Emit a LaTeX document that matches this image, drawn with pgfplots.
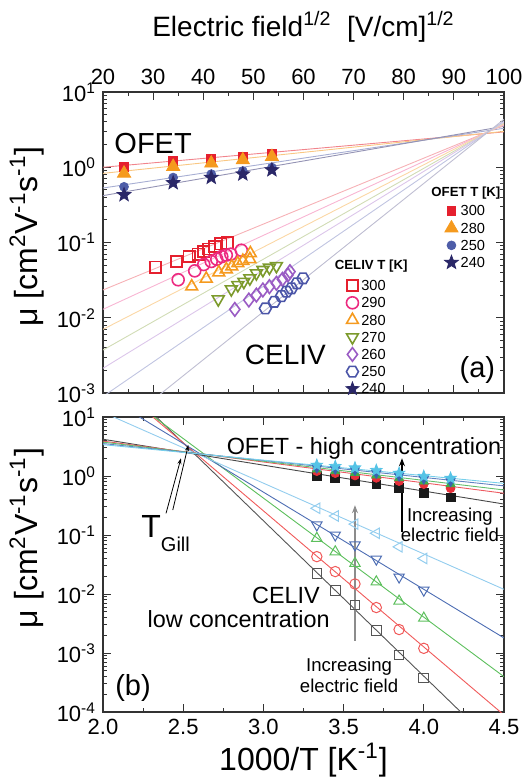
\documentclass[border=0pt]{standalone}
\usepackage{fontspec}
\setmainfont{Liberation Sans}
\usepackage{pgfplots}
\pgfplotsset{compat=1.18}
\usetikzlibrary{arrows.meta}

% --- colours ---
\definecolor{cRed}{HTML}{E5202E}
\definecolor{cPink}{HTML}{EC2A80}
\definecolor{cOrange}{HTML}{F59A1E}
\definecolor{cOlive}{HTML}{7C9A2C}
\definecolor{cPurple}{HTML}{9A5CC4}
\definecolor{cIndigo}{HTML}{4B55A8}
\definecolor{cBlue}{HTML}{4E5DA8}
\definecolor{cNavy}{HTML}{2A2768}
% panel (b)
\definecolor{bBlack}{HTML}{1A1A1A}
\definecolor{bRed}{HTML}{E8303A}
\definecolor{bGreen}{HTML}{3DAE48}
\definecolor{bBlue}{HTML}{3B62B0}
\definecolor{bCyan}{HTML}{55C3E6}
\definecolor{oBlack}{HTML}{555555}
\definecolor{oRed}{HTML}{F05A5A}
\definecolor{oGreen}{HTML}{5CBF5C}
\definecolor{oBlue}{HTML}{4D6DB3}
\definecolor{oCyan}{HTML}{93CDEE}

% filled five-point star and open hexagon
\pgfdeclareplotmark{fstar}{%
  \pgfpathmoveto{\pgfpointpolar{90}{\pgfplotmarksize}}%
  \pgfpathlineto{\pgfpointpolar{126}{0.42\pgfplotmarksize}}%
  \pgfpathlineto{\pgfpointpolar{162}{\pgfplotmarksize}}%
  \pgfpathlineto{\pgfpointpolar{198}{0.42\pgfplotmarksize}}%
  \pgfpathlineto{\pgfpointpolar{234}{\pgfplotmarksize}}%
  \pgfpathlineto{\pgfpointpolar{270}{0.42\pgfplotmarksize}}%
  \pgfpathlineto{\pgfpointpolar{306}{\pgfplotmarksize}}%
  \pgfpathlineto{\pgfpointpolar{342}{0.42\pgfplotmarksize}}%
  \pgfpathlineto{\pgfpointpolar{18}{\pgfplotmarksize}}%
  \pgfpathlineto{\pgfpointpolar{54}{0.42\pgfplotmarksize}}%
  \pgfpathclose\pgfusepathqfillstroke}
\pgfdeclareplotmark{hexagon}{%
  \pgfpathmoveto{\pgfpointpolar{0}{\pgfplotmarksize}}%
  \pgfpathlineto{\pgfpointpolar{60}{\pgfplotmarksize}}%
  \pgfpathlineto{\pgfpointpolar{120}{\pgfplotmarksize}}%
  \pgfpathlineto{\pgfpointpolar{180}{\pgfplotmarksize}}%
  \pgfpathlineto{\pgfpointpolar{240}{\pgfplotmarksize}}%
  \pgfpathlineto{\pgfpointpolar{300}{\pgfplotmarksize}}%
  \pgfpathclose\pgfusepathqstroke}

\pgfplotsset{
  every axis/.append style={
    scale only axis, width=200.5pt,
    tick align=inside,
    major tick length=4pt, minor tick length=2pt,
    axis line style={line width=0.6pt, black!80},
    tick style={black!80, line width=0.5pt},
    tick label style={font=\fontsize{11}{12}\selectfont},
    label style={font=\fontsize{16}{18}\selectfont},
  },
}
\tikzset{fitline/.style={line width=0.45pt}}

\newcommand{\ylab}{μ [cm\textsuperscript{2}V\textsuperscript{-1}s\textsuperscript{-1}]}
\newcommand{\legimg}{\draw[mark repeat=2,mark phase=2]}

\begin{document}
\begin{tikzpicture}
\path[use as bounding box] (-51.5pt,-195.5pt) rectangle (212pt,196.5pt);

% ================= PANEL (a) =================
\begin{axis}[ymode=log, at={(0,0)}, anchor=south west, height=150.5pt,
  xmin=20, xmax=100, ymin=1e-3, ymax=10,
  xtick={20,30,...,100}, minor x tick num=1,
  xticklabel pos=right, xtick pos=both,
  ytick={1e-3,1e-2,1e-1,1,10},
  yticklabels={10\textsuperscript{-3},10\textsuperscript{-2},10\textsuperscript{-1},10\textsuperscript{0},10\textsuperscript{1}},
  xticklabel={\pgfmathprintnumber[assume math mode=true]{\tick}},
  xlabel={Electric field\textsuperscript{1/2}\ \ [V/cm]\textsuperscript{1/2}},
  xlabel style={at={(axis description cs:0.5,1)}, anchor=center, yshift=32.5pt, font=\fontsize{14}{16}\selectfont},
  ylabel={\ylab},
  ylabel style={at={(axis description cs:-0.19,0.52)}, anchor=center},
  legend style={at={(axis description cs:0.59,0.4)}, anchor=north west,
    draw=none, fill=none, font=\fontsize{7.3}{8}\selectfont, row sep=0pt,
    nodes={inner sep=1.2pt, text height=5.6pt, text depth=0.6pt}},
  legend cell align=left,
]
% OFET fits
\addplot[forget plot, fitline, cRed!55] coordinates {(20,1.0) (100,2.95)};
\addplot[forget plot, fitline, cOrange!55] coordinates {(20,0.83) (100,3.0)};
\addplot[forget plot, fitline, cBlue!50] coordinates {(20,0.53) (100,3.3)};
\addplot[forget plot, fitline, cNavy!50] coordinates {(20,0.42) (100,3.5)};
% CELIV fits
\addplot[forget plot, fitline, cRed!35] coordinates {(20,0.0234) (100,3.62)};
\addplot[forget plot, fitline, cPink!35] coordinates {(20,0.01294) (100,3.71)};
\addplot[forget plot, fitline, cOrange!40] coordinates {(20,0.00701) (100,3.80)};
\addplot[forget plot, fitline, cOlive!35] coordinates {(20,0.00372) (100,3.89)};
\addplot[forget plot, fitline, cPurple!35] coordinates {(20,0.00213) (100,3.98)};
\addplot[forget plot, fitline, cIndigo!35] coordinates {(20,0.0009) (100,4.11)};
\addplot[forget plot, fitline, cNavy!30] coordinates {(20,0.000238) (100,4.34)};

% CELIV data
\addplot[only marks, mark=square, mark size=2.8pt, cRed, line width=0.8pt,
  legend image code/.code={\legimg plot coordinates {(0cm,0cm) (0.15cm,0cm) (0.3cm,0cm)};}] coordinates {
 (30.5,0.047) (34.7,0.056) (37.2,0.065) (39.0,0.070) (40.1,0.076) (41.1,0.082) (42.3,0.088) (43.5,0.096) (44.8,0.099)};
\addlegendentry{300}
\addplot[only marks, mark=o, mark size=3pt, cPink, line width=0.8pt,
  legend image code/.code={\legimg plot coordinates {(0cm,0cm) (0.15cm,0cm) (0.3cm,0cm)};}] coordinates {
 (35.0,0.032) (38.3,0.042) (40.1,0.051) (41.6,0.056) (42.7,0.060) (43.7,0.065) (44.6,0.068) (45.5,0.070) (47.6,0.079)};
\addlegendentry{290}
\addplot[only marks, mark=triangle, mark size=3.4pt, cOrange, line width=0.8pt,
  legend image code/.code={\legimg plot coordinates {(0cm,0cm) (0.15cm,0cm) (0.3cm,0cm)};}] coordinates {
 (37.7,0.026) (40.6,0.033) (43.1,0.040) (44.6,0.044) (45.7,0.048) (46.9,0.053) (47.9,0.057) (49.3,0.060) (49.4,0.072)};
\addlegendentry{280}
\addplot[only marks, mark=triangle, mark size=3.4pt, mark options={rotate=180}, cOlive, line width=0.8pt,
  legend image code/.code={\legimg plot coordinates {(0cm,0cm) (0.15cm,0cm) (0.3cm,0cm)};}] coordinates {
 (43.0,0.0176) (45.6,0.0239) (46.9,0.0272) (48.1,0.0301) (49.3,0.0334) (50.6,0.039) (51.9,0.0432) (53.2,0.0463) (54.6,0.0488)};
\addlegendentry{270}
\addplot[only marks, mark=diamond, mark size=3.4pt, cPurple, line width=0.8pt,
  legend image code/.code={\legimg plot coordinates {(0cm,0cm) (0.15cm,0cm) (0.3cm,0cm)};}] coordinates {
 (46.3,0.0129) (49.1,0.0172) (50.6,0.020) (51.9,0.0234) (53.2,0.0259) (54.6,0.0287) (55.8,0.0324) (56.9,0.037) (57.3,0.041)};
\addlegendentry{260}
\addplot[only marks, mark=hexagon, mark size=3pt, cIndigo, line width=0.8pt,
  legend image code/.code={\legimg plot coordinates {(0cm,0cm) (0.15cm,0cm) (0.3cm,0cm)};}] coordinates {
 (52.4,0.0133) (54.2,0.0163) (55.6,0.0194) (56.6,0.0222) (57.6,0.0246) (58.7,0.0287) (59.9,0.0334)};
\addlegendentry{250}
\addlegendimage{only marks, mark=fstar, mark size=3.4pt, cNavy, fill=cNavy,
  legend image code/.code={\legimg plot coordinates {(0cm,0cm) (0.15cm,0cm) (0.3cm,0cm)};}}
\addlegendentry{240}

% annotations
\node[font=\fontsize{14.5}{16}\selectfont] at (axis cs:30.0,2.08) {OFET};
\node[font=\fontsize{14}{16}\selectfont] at (axis cs:56.4,0.0032) {CELIV};
\node[font=\fontsize{14.5}{16}\selectfont] at (axis cs:94.7,0.00204) {(a)};
\node[font=\bfseries\fontsize{6.6}{8}\selectfont] at (axis cs:73.5,0.0492) {CELIV T [K]};
\node[font=\bfseries\fontsize{6.6}{8}\selectfont] at (axis cs:92.4,0.459) {OFET T [K]};
\end{axis}

% OFET markers of panel (a), with their own legend
\begin{axis}[ymode=log, at={(0,0)}, anchor=south west, height=150.5pt,
  xmin=20, xmax=100, ymin=1e-3, ymax=10, hide axis,
  legend style={at={(axis description cs:0.836,0.648)}, anchor=north west,
    draw=none, fill=none, font=\fontsize{7.3}{8}\selectfont, row sep=0pt,
    nodes={inner sep=1.2pt, text height=5.6pt, text depth=0.6pt}},
  legend cell align=left,
]
\addplot[only marks, mark=square*, mark size=2.2pt, cRed,
  legend image code/.code={\legimg plot coordinates {(0cm,0cm) (0.15cm,0cm) (0.3cm,0cm)};}] coordinates {
 (24.2,1.02) (34.0,1.21) (41.6,1.29) (47.9,1.37) (53.7,1.53)};
\addlegendentry{300}
\addplot[only marks, mark=triangle*, mark size=3.8pt, cOrange,
  legend image code/.code={\legimg plot coordinates {(0cm,0cm) (0.15cm,0cm) (0.3cm,0cm)};}] coordinates {
 (24.2,0.83) (34.0,1.02) (41.6,1.13) (47.9,1.25) (53.7,1.38)};
\addlegendentry{280}
\addplot[only marks, mark=*, mark size=2.2pt, cBlue,
  legend image code/.code={\legimg plot coordinates {(0cm,0cm) (0.15cm,0cm) (0.3cm,0cm)};}] coordinates {
 (24.2,0.55) (34.0,0.73) (41.6,0.81) (47.9,0.89) (53.7,0.99)};
\addlegendentry{250}
\addplot[only marks, mark=fstar, mark size=3.6pt, cNavy, fill=cNavy,
  legend image code/.code={\legimg plot coordinates {(0cm,0cm) (0.15cm,0cm) (0.3cm,0cm)};}] coordinates {
 (24.2,0.43) (34.0,0.62) (41.6,0.73) (47.9,0.81) (53.7,0.92)};
\addlegendentry{240}
\end{axis}

% ================= PANEL (b) =================
\begin{axis}[ymode=log, at={(0,-12pt)}, anchor=north west, height=147.5pt,
  xmin=2, xmax=4.5, ymin=1e-4, ymax=10,
  xtick={2,2.5,...,4.5}, minor x tick num=1,
  xticklabel={\pgfmathprintnumber[assume math mode=true, fixed, fixed zerofill, precision=1]{\tick}},
  ytick={1e-4,1e-3,1e-2,1e-1,1,10},
  yticklabels={10\textsuperscript{-4},10\textsuperscript{-3},10\textsuperscript{-2},10\textsuperscript{-1},10\textsuperscript{0},10\textsuperscript{1}},
  xlabel={1000/T [K\textsuperscript{-1}]},
  xlabel style={at={(axis description cs:0.5,0)}, anchor=center, yshift=-24pt},
  ylabel={\ylab},
  ylabel style={at={(axis description cs:-0.19,0.59)}, anchor=center},
]
% CELIV fits
\addplot[fitline, oBlack] coordinates {(2.0,75.3) (4.5,1.95e-5)};
\addplot[fitline, oRed] coordinates {(2.0,52.1) (4.5,8.9e-5)};
\addplot[fitline, oGreen] coordinates {(2.0,44.1) (4.5,3.97e-4)};
\addplot[fitline, oBlue] coordinates {(2.0,23.7) (4.5,1.8e-3)};
\addplot[fitline, oCyan] coordinates {(2.0,12.0) (4.5,0.012)};
% OFET fits
\addplot[fitline, bBlack!80] coordinates {(2.0,4.2) (4.5,0.335)};
\addplot[fitline, bRed!80] coordinates {(2.0,3.9) (4.5,0.51)};
\addplot[fitline, bGreen!80] coordinates {(2.0,3.75) (4.5,0.58)};
\addplot[fitline, bBlue!80] coordinates {(2.0,3.55) (4.5,0.68)};
\addplot[fitline, bCyan!80] coordinates {(2.0,3.4) (4.5,0.75)};

% CELIV data (low concentration)
\addplot[only marks, mark=square, mark size=2.4pt, oBlack, line width=0.5pt] coordinates {
 (3.333,0.0224) (3.448,0.0116) (3.571,0.0065) (3.704,0.0024) (3.846,0.00092) (4.0,0.00038)};
\addplot[only marks, mark=o, mark size=2.6pt, oRed, line width=0.5pt] coordinates {
 (3.333,0.043) (3.448,0.024) (3.571,0.0148) (3.704,0.0059) (3.846,0.0025) (4.0,0.0012)};
\addplot[only marks, mark=triangle, mark size=3pt, oGreen, line width=0.5pt] coordinates {
 (3.333,0.088) (3.448,0.052) (3.571,0.033) (3.704,0.0161) (3.846,0.0076) (4.0,0.0039)};
\addplot[only marks, mark=triangle, mark size=3pt, mark options={rotate=180}, oBlue, line width=0.5pt] coordinates {
 (3.333,0.148) (3.448,0.100) (3.571,0.068) (3.704,0.039) (3.846,0.0194) (4.0,0.0116)};
\addplot[only marks, mark=triangle, mark size=3pt, mark options={rotate=90}, oCyan, line width=0.5pt] coordinates {
 (3.333,0.284) (3.448,0.21) (3.571,0.153) (3.704,0.107) (3.846,0.063) (4.0,0.040)};

% OFET data (high concentration)
\addplot[only marks, mark=square*, mark size=2.2pt, bBlack] coordinates {
 (3.333,1.0) (3.448,0.91) (3.571,0.82) (3.704,0.72) (3.846,0.62) (4.0,0.52) (4.167,0.435)};
\addplot[only marks, mark=*, mark size=2.2pt, bRed] coordinates {
 (3.333,1.21) (3.448,1.12) (3.571,1.02) (3.704,0.93) (3.846,0.82) (4.0,0.73) (4.167,0.62)};
\addplot[only marks, mark=triangle*, mark size=2.6pt, bGreen] coordinates {
 (3.333,1.29) (3.448,1.21) (3.571,1.13) (3.704,1.03) (3.846,0.92) (4.0,0.81) (4.167,0.73)};
\addplot[only marks, mark=triangle*, mark size=2.6pt, mark options={rotate=180}, bBlue] coordinates {
 (3.333,1.37) (3.448,1.31) (3.571,1.25) (3.704,1.12) (3.846,1.0) (4.0,0.89) (4.167,0.81)};
\addplot[only marks, mark=fstar, mark size=3pt, bCyan, fill=bCyan] coordinates {
 (3.333,1.53) (3.448,1.46) (3.571,1.38) (3.704,1.25) (3.846,1.12) (4.0,0.99) (4.167,0.92)};

% arrows
\draw[black!45, line width=0.6pt, -{Stealth[length=4pt,width=3pt]}] (axis cs:3.571,0.0016) -- (axis cs:3.571,0.32);
\draw[black, line width=0.6pt, -{Stealth[length=4pt,width=3pt]}] (axis cs:3.864,0.114) -- (axis cs:3.864,2.0);
\draw[black, line width=0.4pt, -{Stealth[length=3pt,width=2pt]}] (axis cs:2.393,0.233) -- (axis cs:2.486,2.0);
\draw[black, line width=0.4pt, -{Stealth[length=3pt,width=2pt]}] (axis cs:2.435,0.265) -- (axis cs:2.532,3.35);

% annotations
\node[font=\fontsize{11.7}{13}\selectfont] at (axis cs:3.627,2.9) {OFET - high concentration};
\node[font=\fontsize{9.3}{10.3}\selectfont, align=center, inner sep=0.5pt] at (axis cs:4.163,0.1476) {Increasing\\electric field};
\node[font=\fontsize{9.3}{10.3}\selectfont, align=center, inner sep=0.5pt] at (axis cs:3.534,4.2e-4) {Increasing\\electric field};
\node[font=\fontsize{11.7}{13}\selectfont] at (axis cs:3.141,0.00935) {CELIV};
\node[font=\fontsize{11.7}{13}\selectfont] at (axis cs:2.846,0.00372) {low concentration};
\node[font=\fontsize{14.5}{16}\selectfont] at (axis cs:2.187,2.55e-4) {(b)};
\node[anchor=base west, inner sep=0pt] at (axis cs:2.237,0.0925)
  {\fontsize{16}{16}\selectfont T\raisebox{-7pt}{\fontsize{10}{10}\selectfont Gill}};
\end{axis}
\end{tikzpicture}
\end{document}
